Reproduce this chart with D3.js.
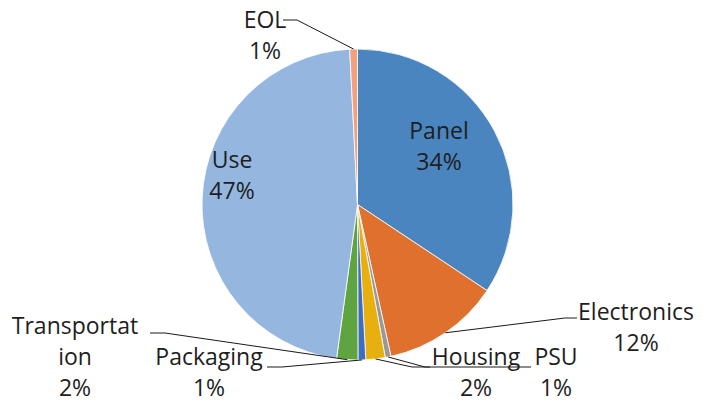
<!DOCTYPE html>
<html>
<head>
<meta charset="utf-8">
<script src="https://cdn.jsdelivr.net/npm/d3@7"></script>
<style>
  body { margin: 0; background: #fff; }
  text { font-family: "Open Sans", sans-serif; font-size: 23px; fill: #1e1e1e; }
</style>
</head>
<body>
<svg id="grafico"></svg>
<script>
// dados
const categorias = ['Panel', 'Electronics', 'PSU', 'Housing', 'Packaging', 'Transportation', 'Use', 'EOL']
const valores = [34.3, 12.2, 0.6, 2.0, 0.8, 2.2, 47.0, 0.8]
const rotulos = [['Panel'], ['Electronics'], ['PSU'], ['Housing'], ['Packaging'], ['Transportat', 'ion'], ['Use'], ['EOL']]
const cores = ['#4a85bf', '#e0702d', '#999999', '#e8b00e', '#3d6cc0', '#5fa440', '#95b7df', '#f2a080']

// posicao dos rotulos (layout)
const layout = {
  Panel: {x: 439, y: 139},
  Use: {x: 232, y: 168},
  EOL: {x: 265, y: 28, cotovelo: [297, 20], fim: [283, 20]},
  Electronics: {x: 636, y: 320, cotovelo: [565, 318], fim: [577, 318]},
  PSU: {x: 556, y: 365, cotovelo: [425, 367], fim: [531, 367]},
  Housing: {x: 476, y: 365, cotovelo: [412, 367], fim: [430, 367]},
  Packaging: {x: 209, y: 365, cotovelo: [282, 367], fim: [267, 367]},
  Transportation: {x: 75, y: 334, cotovelo: [165, 333], fim: [150, 333]}
}

const largura = 713, altura = 402
const cx = 357.5, cy = 204.5, raio = 155.5
const alturaLinha = 31

let svg = d3.select('#grafico')
  .attr('width', largura)
  .attr('height', altura)

let dados = categorias.map((c, i) => ({chave: c, valor: valores[i], linhas: rotulos[i], cor: cores[i]}))
let total = d3.sum(valores)

let pie = d3.pie().sort(null).value(d => d.valor)
let arco = d3.arc().innerRadius(0).outerRadius(raio)
let borda = d3.arc().innerRadius(raio).outerRadius(raio)

let g = svg.append('g').attr('transform', 'translate(' + cx + ',' + cy + ')')
let fatias = pie(dados)

g.selectAll('.fatia').data(fatias).enter().append('path')
  .classed('fatia', true)
  .attr('d', arco)
  .attr('fill', d => d.data.cor)
  .attr('stroke', '#fff')
  .attr('stroke-width', 0.8)

// linhas de chamada
fatias.forEach(d => {
  let l = layout[d.data.chave]
  if (!l.cotovelo) return
  let p = borda.centroid(d)
  let pts = [[p[0] + cx, p[1] + cy], l.cotovelo, l.fim]
  svg.append('path')
    .attr('d', d3.line()(pts))
    .attr('fill', 'none')
    .attr('stroke', '#1a1a1a')
    .attr('stroke-width', 1)
})

// rotulos
fatias.forEach(d => {
  let l = layout[d.data.chave]
  let linhas = d.data.linhas.concat([Math.round(d.data.valor / total * 100) + '%'])
  let t = svg.append('text').attr('text-anchor', 'middle')
  linhas.forEach((txt, i) => {
    t.append('tspan').attr('x', l.x).attr('y', l.y + i * alturaLinha).text(txt)
  })
})
</script>
</body>
</html>
